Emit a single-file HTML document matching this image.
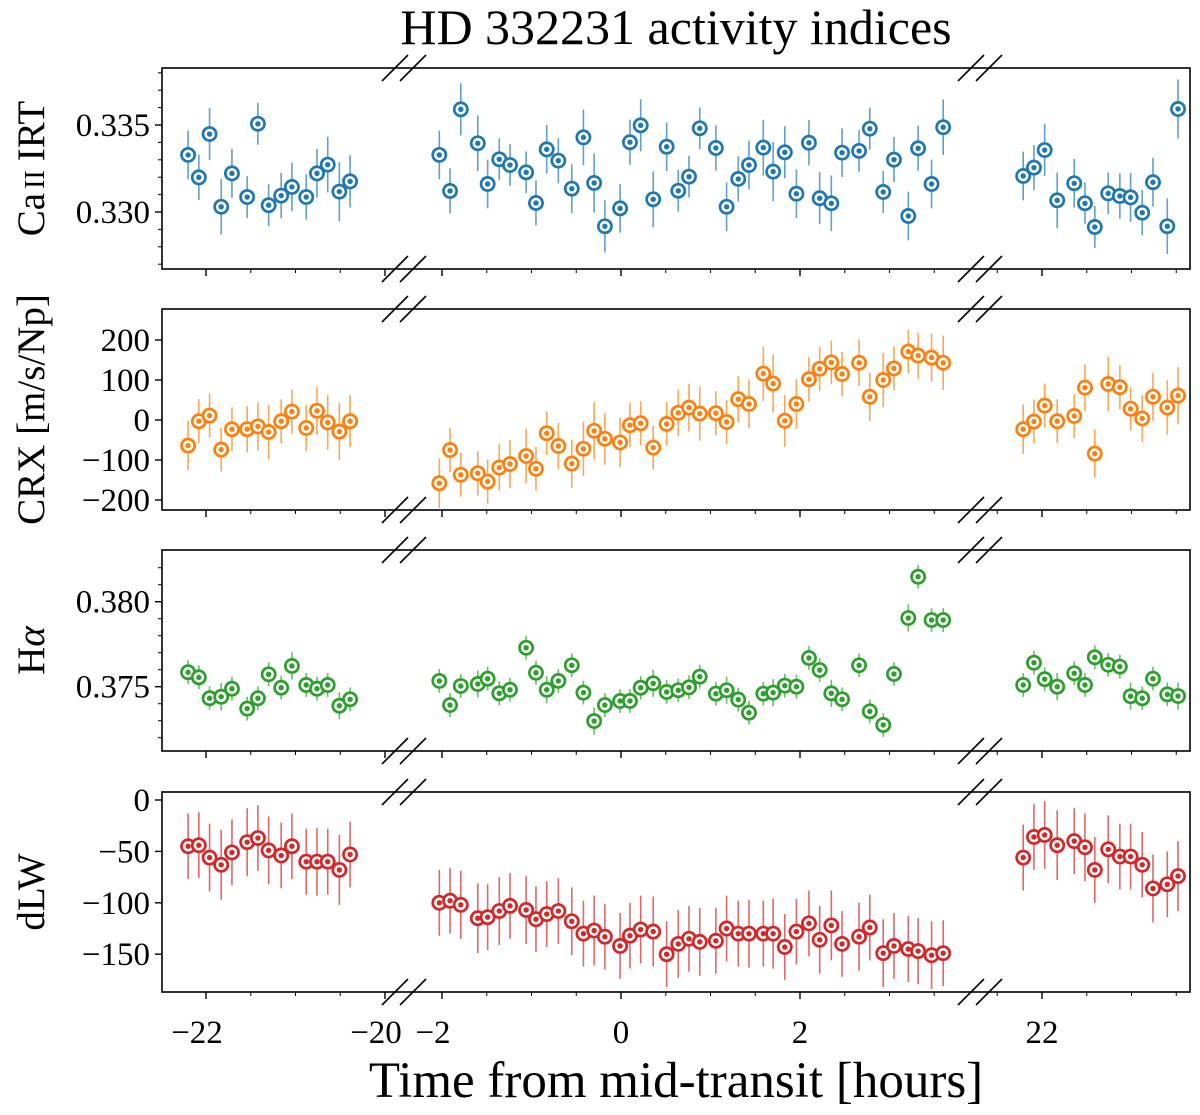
<!DOCTYPE html>
<html><head><meta charset="utf-8">
<style>
html,body{margin:0;padding:0;background:#fff;}
svg{display:block;}
text{font-family:"Liberation Serif","DejaVu Serif",serif;fill:#000;}
</style></head>
<body>
<svg id="chart" width="1200" height="1115" viewBox="0 0 1200 1115" xmlns="http://www.w3.org/2000/svg">
<text x="676" y="44" font-size="50" text-anchor="middle">HD 332231 activity indices</text>
<text x="676" y="1097" font-size="51" text-anchor="middle">Time from mid-transit [hours]</text>
</svg>
<script>
// ---- data ----
const timesLeft = [-22.20,-22.08,-21.96,-21.83,-21.71,-21.54,-21.42,-21.30,-21.16,-21.04,-20.88,-20.76,-20.64,-20.51,-20.39];
const timesMid = [-2.03,-1.91,-1.79,-1.60,-1.49,-1.36,-1.24,-1.06,-0.95,-0.83,-0.70,-0.55,-0.42,-0.30,-0.18,-0.01,0.10,0.22,0.36,0.51,0.64,0.76,0.88,1.06,1.18,1.31,1.43,1.59,1.70,1.83,1.96,2.10,2.22,2.35,2.47,2.66,2.78,2.93,3.05,3.21,3.32,3.47,3.60];
const timesRight = [21.79,21.91,22.03,22.17,22.36,22.48,22.59,22.74,22.87,22.99,23.12,23.24,23.40,23.52];

const caLeft = [.33328,.33199,.33448,.33030,.33222,.33086,.33507,.33039,.33094,.33144,.33086,.33222,.33272,.33117,.33176];
const caMid = [.33328,.33121,.33590,.33395,.33161,.33303,.33270,.33228,.33052,.33360,.33295,.33134,.33429,.33167,.32918,.33021,.33401,.33498,.33073,.33375,.33122,.33203,.33481,.33368,.33030,.33190,.33270,.33370,.33232,.33343,.33105,.33398,.33079,.33050,.33341,.33351,.33479,.33115,.33301,.32977,.33366,.33161,.33487];
const caRight = [.33207,.33255,.33356,.33067,.33165,.33050,.32914,.33107,.33092,.33084,.32996,.33171,.32918,.33592];
const caErr = [0.0014,0.0013,0.0015,0.0016,0.0014,0.0012,0.0012,0.0012,0.0013,0.0014,0.0013,0.0014,0.0016,0.0017,0.0015];

const crxLeft = [-64,-3,11,-74,-23,-23,-16,-30,-3,21,-20,23,-6,-29,-3];
const crxMid = [-158,-75,-137,-133,-154,-119,-110,-90,-122,-33,-65,-109,-72,-27,-47,-56,-13,-8,-69,-10,18,31,16,17,-5,52,40,116,91,-2,40,102,128,144,115,143,58,100,129,171,161,156,143];
const crxRight = [-23,-4,36,-3,10,81,-84,90,82,28,4,58,31,61];
const crxErr = [62,55,55,55,55,58,60,68,55,55,58,60,68,72,65];

const haLeft = [.37585,.37555,.37432,.37441,.37488,.37371,.37432,.37573,.37494,.37622,.37510,.37488,.37510,.37388,.37426];
const haMid = [.37534,.37392,.37504,.37516,.37547,.37461,.37482,.37729,.37582,.37482,.37534,.37626,.37465,.37298,.37392,.37416,.37416,.37494,.37520,.37469,.37479,.37496,.37559,.37459,.37479,.37424,.37347,.37459,.37465,.37506,.37500,.37669,.37598,.37461,.37426,.37626,.37355,.37275,.37575,.37904,.38147,.37892,.37892];
const haRight = [.37510,.37641,.37544,.37500,.37579,.37510,.37673,.37629,.37618,.37444,.37432,.37547,.37455,.37445];
const haErr = [0.0007,0.0007,0.0007,0.0008,0.0007,0.0007,0.0007,0.0007,0.0007,0.0008,0.0007,0.0007,0.0007,0.0008,0.0007];

const dlwLeft = [-45,-44,-56,-63,-51,-41,-37,-49,-54,-45,-60,-60,-60,-68,-53];
const dlwMid = [-100,-98,-102,-115,-114,-108,-103,-107,-116,-111,-108,-118,-130,-127,-133,-142,-132,-126,-128,-150,-140,-135,-138,-137,-125,-130,-130,-130,-130,-143,-128,-120,-136,-122,-140,-133,-124,-149,-142,-145,-147,-151,-149];
const dlwRight = [-56,-36,-34,-44,-40,-46,-68,-48,-55,-55,-63,-86,-82,-74];
const dlwErr = [32,32,33,34,32,33,32,33,32,32,32,33,32,34,32];

const xMajorTicks = [-22,-20,-2,0,2,22];
const xMajorLabels = ["\u221222","\u221220","\u22122","0","2","22"];
const xMinorTicks = [-21.5,-21,-20.5,-1.5,-1,-0.5,0.5,1,1.5,2.5,3,3.5,21.5,22.5,23,23.5];

const caTicks = [0.330,0.335]; const caLabels = ["0.330","0.335"];
const crxTicks = [-200,-100,0,100,200]; const crxLabels = ["\u2212200","\u2212100","0","100","200"];
const haTicks = [0.375,0.380]; const haLabels = ["0.375","0.380"];
const dlwTicks = [-150,-100,-50,0]; const dlwLabels = ["\u2212150","\u2212100","\u221250","0"];

// ---- layout ----
const NS = "http://www.w3.org/2000/svg";
const svg = document.getElementById('chart');
const FL = 162, FR = 1190, B1 = 404, B2 = 980;
const PX_PER_H = 89.5;
function xScale(t){
  if (t < -10) return 206 + (t + 22) * PX_PER_H;
  if (t < 10) return 621 + t * PX_PER_H;
  return 1042 + (t - 22) * PX_PER_H;
}
function mk(tag, attrs, parent){
  const e = document.createElementNS(NS, tag);
  for (const k in attrs) e.setAttribute(k, attrs[k]);
  (parent || svg).appendChild(e);
  return e;
}
function errOf(arr, i){ return arr[i % arr.length]; }

const panels = [
  {name:'ca-irt', top:68, bot:269, ticks:caTicks, labels:caLabels, minor:[0.327,0.328,0.329,0.331,0.332,0.333,0.334,0.336,0.337,0.338],
   color:'#1f77b4', series:[caLeft,caMid,caRight], err:caErr, scaleY:(v)=>212-(v-0.330)*17400},
  {name:'crx', top:309, bot:510, ticks:crxTicks, labels:crxLabels, minor:[],
   color:'#ff7f0e', series:[crxLeft,crxMid,crxRight], err:crxErr, scaleY:(v)=>420-v*0.4},
  {name:'h-alpha', top:550, bot:751, ticks:haTicks, labels:haLabels, minor:[0.372,0.373,0.374,0.376,0.377,0.378,0.379,0.381,0.382,0.383],
   color:'#2ca02c', series:[haLeft,haMid,haRight], err:haErr, scaleY:(v)=>686.7-(v-0.375)*17000},
  {name:'dlw', top:792, bot:992, ticks:dlwTicks, labels:dlwLabels, minor:[],
   color:'#d62728', series:[dlwLeft,dlwMid,dlwRight], err:dlwErr, scaleY:(v)=>800-v*1.028}
];
const times = [timesLeft, timesMid, timesRight];

panels.forEach((p, pi) => {
  const g = mk('g', {});
  
  
  const fr = mk('rect', {x:FL, y:p.top, width:FR-FL, height:p.bot-p.top, fill:'none', stroke:'#000', 'stroke-width':1.6}, g);
  
  
  p.ticks.forEach((v, i) => {
    const y = p.scaleY(v);
    const t = mk('line', {x1:FL-7, x2:FL, y1:y, y2:y, stroke:'#000', 'stroke-width':1.4}, g);
    
    
    const tl = mk('text', {x:FL-12, y:y+11, 'font-size':33, 'text-anchor':'end'}, g);
    tl.textContent = p.labels[i];
    
    
  });
  p.minor.forEach(v => {
    const y = p.scaleY(v);
    if (y < p.top + 2 || y > p.bot - 2) return;
    const t = mk('line', {x1:FL-4, x2:FL, y1:y, y2:y, stroke:'#000', 'stroke-width':1}, g);
    
    
  });
  xMajorTicks.forEach((t) => {
    const x = xScale(t);
    const l = mk('line', {x1:x, x2:x, y1:p.bot, y2:p.bot+7, stroke:'#000', 'stroke-width':1.4}, g);
    
    
  });
  xMinorTicks.forEach((t) => {
    const x = xScale(t);
    const l = mk('line', {x1:x, x2:x, y1:p.bot, y2:p.bot+4, stroke:'#000', 'stroke-width':1}, g);
    
    
  });
  [B1, B2].forEach(bx => {
    [p.top, p.bot].forEach(by => {
      [-9, 9].forEach(off => {
        const b = mk('line', {x1:bx+off-13, y1:by+13, x2:bx+off+13, y2:by-13, stroke:'#000', 'stroke-width':1.6}, g);
        
        
      });
    });
  });
  const yl = mk('text', {x:0, y:0, 'font-size':39, 'text-anchor':'middle', transform:`translate(44,${(p.top+p.bot)/2}) rotate(-90)`}, g);
  if (p.name === 'h-alpha') {
    yl.textContent = 'H';
    const a = mk('tspan', {'font-style':'italic'}, yl);
    a.textContent = '\u03B1';
  } else if (p.name === 'ca-irt') {
    yl.textContent = 'Ca';
    const s = mk('tspan', {'font-size':28, dx:4}, yl);
    s.textContent = 'II';
    const r = mk('tspan', {dx:9}, yl);
    r.textContent = 'IRT';
  } else if (p.name === 'crx') {
    yl.textContent = 'CRX [m/s/Np]';
  } else {
    yl.textContent = 'dLW';
  }
  
  
  p.series.forEach((vals, si) => {
    vals.forEach((v, i) => {
      const x = xScale(times[si][i]);
      const y = p.scaleY(v);
      const e = errOf(p.err, i);
      const y1 = p.scaleY(v + e), y2 = p.scaleY(v - e);
      const eb = mk('line', {x1:x, x2:x, y1:y1, y2:y2, stroke:p.color, 'stroke-width':1.6, 'stroke-opacity':0.7}, g);
      
      
      const c = mk('circle', {cx:x, cy:y, r:6.6, fill:'#fff', stroke:p.color, 'stroke-width':2.7}, g);
      
      
      const d = mk('circle', {cx:x, cy:y, r:2.7, fill:p.color}, g);
      
      
    });
  });
});
xMajorTicks.forEach((t, i) => {
  const x = xScale(t) + (xMajorLabels[i].startsWith('\u2212') ? -9 : 0);
  const tl = mk('text', {x:x, y:1043, 'font-size':33, 'text-anchor':'middle'});
  tl.textContent = xMajorLabels[i];
  
  
});
</script>
</body></html>
